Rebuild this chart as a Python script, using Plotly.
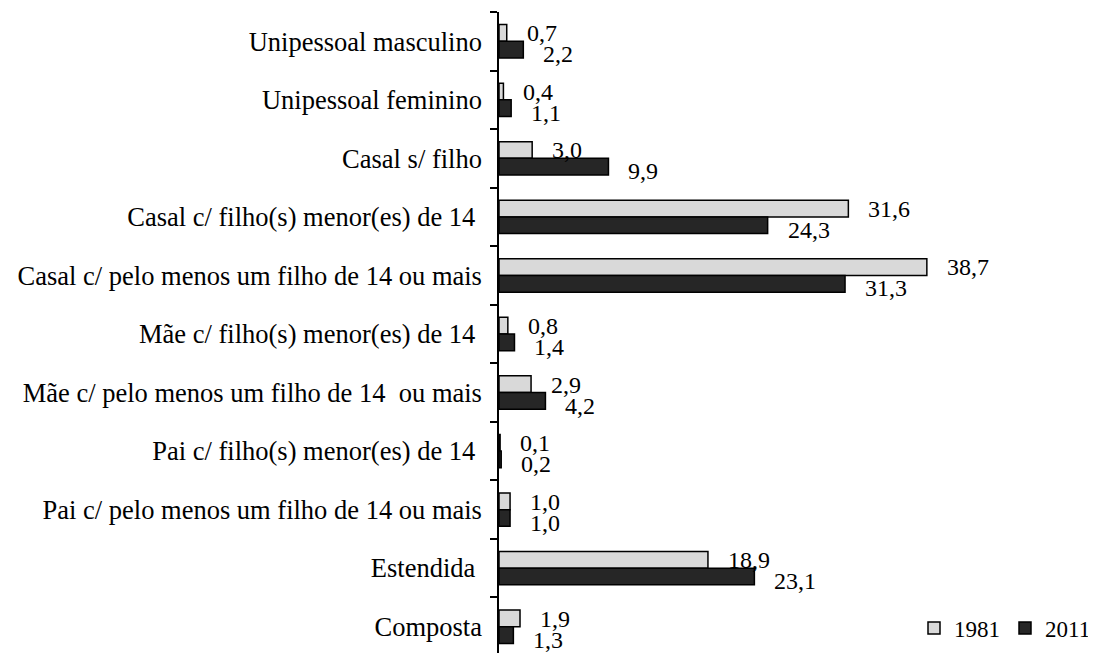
import plotly.graph_objects as go

categories = [
    "Unipessoal masculino",
    "Unipessoal feminino",
    "Casal s/ filho",
    "Casal c/ filho(s) menor(es) de 14\u00a0",
    "Casal c/ pelo menos um filho de 14 ou mais",
    "Mãe c/ filho(s) menor(es) de 14\u00a0",
    "Mãe c/ pelo menos um filho de 14\u00a0 ou mais",
    "Pai c/ filho(s) menor(es) de 14\u00a0",
    "Pai c/ pelo menos um filho de 14 ou mais",
    "Estendida\u00a0",
    "Composta",
]
values_1981 = [0.7, 0.4, 3.0, 31.6, 38.7, 0.8, 2.9, 0.1, 1.0, 18.9, 1.9]
values_2011 = [2.2, 1.1, 9.9, 24.3, 31.3, 1.4, 4.2, 0.2, 1.0, 23.1, 1.3]

font_family = "Liberation Serif, Times New Roman, serif"

fig = go.Figure()
fig.add_trace(go.Bar(
    y=categories, x=values_1981, name="1981", orientation="h",
    marker=dict(color="#d9d9d9", line=dict(color="black", width=1.5)),
))
fig.add_trace(go.Bar(
    y=categories, x=values_2011, name="2011", orientation="h",
    marker=dict(color="#262626", line=dict(color="black", width=1.5)),
))

# data labels, placed like the original (1981 a bit above, 2011 below)
for cat, v in zip(categories, values_1981):
    fig.add_annotation(x=v, y=cat, text=f"{v:.1f}".replace(".", ","),
                       showarrow=False, xanchor="left", yanchor="middle",
                       xshift=18, yshift=8, font=dict(size=24))
for cat, v in zip(categories, values_2011):
    fig.add_annotation(x=v, y=cat, text=f"{v:.1f}".replace(".", ","),
                       showarrow=False, xanchor="left", yanchor="middle",
                       xshift=18, yshift=-13, font=dict(size=24))

# the page body adds an 8px margin, so the figure is drawn 8px smaller
fig.update_layout(
    template="none",
    width=1088, height=648,
    margin=dict(l=491, r=0, t=4, b=0, autoexpand=False),
    barmode="group", bargap=0.43, bargroupgap=0,
    paper_bgcolor="white", plot_bgcolor="white",
    font=dict(family=font_family, size=23, color="black"),
    showlegend=True,
    legend=dict(orientation="h", x=1.0, xanchor="right", y=0.01, yanchor="bottom",
                font=dict(size=23), bgcolor="rgba(0,0,0,0)",
                itemwidth=30, tracegroupgap=0),
)
fig.update_xaxes(range=[0, 54], visible=False, automargin=False)
fig.update_yaxes(
    autorange="reversed", showline=True, linecolor="black", linewidth=1.5,
    ticks="outside", ticklen=7, tickcolor="black", tickwidth=1.5,
    tickson="boundaries", ticklabelstandoff=10, showgrid=False,
    zeroline=False, automargin=False,
    tickfont=dict(size=26.5),
)

fig.write_html("out.html")
